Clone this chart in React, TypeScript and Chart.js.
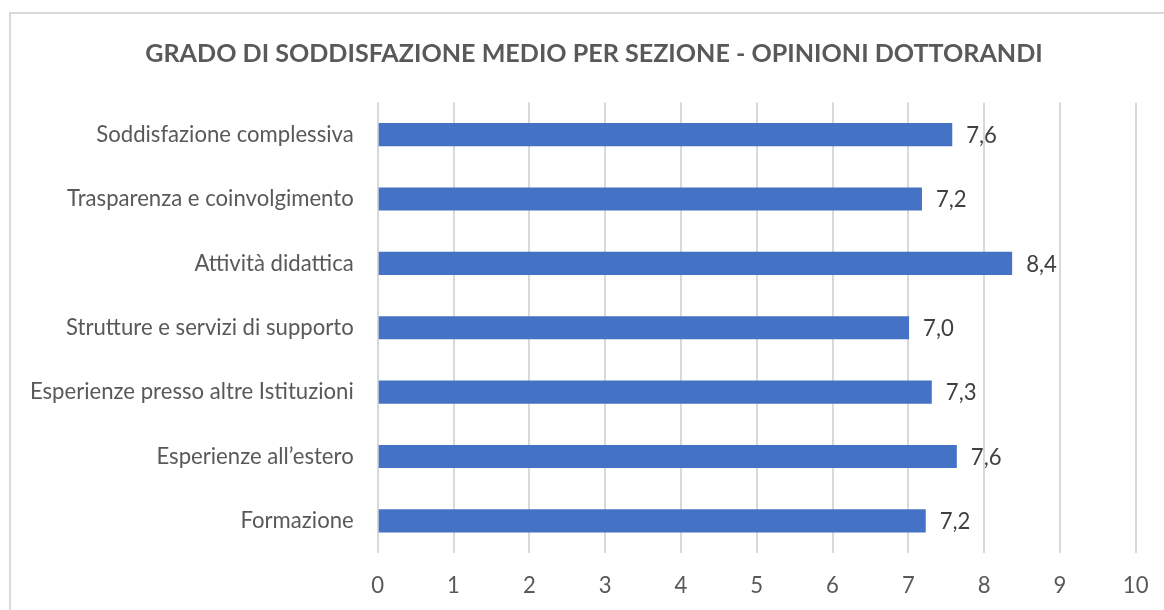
import React, { useEffect, useRef } from "react";
import { Chart, registerables } from "chart.js";

Chart.register(...registerables);

const chartTitle = "GRADO DI SODDISFAZIONE MEDIO PER SEZIONE - OPINIONI DOTTORANDI";
const categories = [
  "Soddisfazione complessiva",
  "Trasparenza e coinvolgimento",
  "Attività didattica",
  "Strutture e servizi di supporto",
  "Esperienze presso altre Istituzioni",
  "Esperienze all’estero",
  "Formazione",
];
const values = [7.58, 7.18, 8.37, 7.01, 7.31, 7.64, 7.23];
const valueLabels = ["7,6", "7,2", "8,4", "7,0", "7,3", "7,6", "7,2"];
const xMin = 0;
const xMax = 10;
const xStep = 1;

const FAMILY = "Lato, 'Open Sans', sans-serif";

function fitSize(text: string, weight: string, target: number): number {
  const ctx = document.createElement("canvas").getContext("2d")!;
  const base = 20;
  ctx.font = `${weight} ${base}px ${FAMILY}`;
  const w = ctx.measureText(text).width;
  return (base * target) / w;
}

export default function App() {
  const ref = useRef<HTMLCanvasElement>(null);

  useEffect(() => {
    const canvas = ref.current!;
    const labelSize = fitSize("Esperienze presso altre Istituzioni", "normal", 324);
    const titleSize = fitSize(chartTitle, "bold", 898);

    const framePlugin = {
      id: "frame",
      beforeDraw(chart: any) {
        const ctx = chart.ctx;
        ctx.save();
        ctx.fillStyle = "#ffffff";
        ctx.fillRect(0, 0, chart.width, chart.height);
        ctx.fillStyle = "#d9d9d9";
        ctx.fillRect(9, 12, chart.width, 2);
        ctx.fillRect(9, 12, 2, chart.height);
        ctx.fillStyle = "#595959";
        ctx.font = `bold ${titleSize}px ${FAMILY}`;
        ctx.textAlign = "center";
        ctx.textBaseline = "alphabetic";
        ctx.fillText(chartTitle, 594, 62);
        ctx.restore();
      },
    };

    const valueLabelPlugin = {
      id: "valueLabels",
      afterDatasetsDraw(chart: any) {
        const ctx = chart.ctx;
        const meta = chart.getDatasetMeta(0);
        ctx.save();
        ctx.fillStyle = "#404040";
        ctx.font = `${labelSize}px ${FAMILY}`;
        ctx.textAlign = "left";
        ctx.textBaseline = "middle";
        meta.data.forEach((bar: any, i: number) => {
          ctx.fillText(valueLabels[i], bar.x + 14, bar.y + 1);
        });
        ctx.restore();
      },
    };

    const chart = new Chart(canvas, {
      type: "bar",
      data: {
        labels: categories,
        datasets: [
          {
            data: values,
            backgroundColor: "#4472C4",
            borderWidth: 0,
            barPercentage: 0.36,
            categoryPercentage: 1,
          },
        ],
      },
      options: {
        indexAxis: "y",
        responsive: false,
        animation: false,
        devicePixelRatio: 1,
        layout: { padding: { top: 102.5, right: 28.3, bottom: 0, left: 0 } },
        plugins: {
          legend: { display: false },
          title: { display: false },
          tooltip: { enabled: false },
        },
        scales: {
          x: {
            min: xMin,
            max: xMax,
            grid: { color: "#d9d9d9", lineWidth: 2, drawTicks: false },
            border: { display: false },
            ticks: {
              stepSize: xStep,
              padding: 20,
              color: "#595959",
              font: { family: FAMILY, size: labelSize },
            },
            afterFit(scale: any) {
              scale.height = 57;
              scale.paddingLeft = 0;
              scale.paddingRight = 0;
            },
          },
          y: {
            grid: { display: false, drawTicks: false },
            border: { display: false },
            ticks: {
              padding: 24,
              color: "#595959",
              font: { family: FAMILY, size: labelSize },
            },
            afterFit(scale: any) {
              scale.width = 377.7;
              scale.paddingTop = 0;
              scale.paddingBottom = 0;
            },
          },
        },
      },
      plugins: [framePlugin, valueLabelPlugin],
    });
    return () => chart.destroy();
  }, []);

  return (
    <div style={{ position: "fixed", left: 0, top: 0, width: 1164, height: 610, background: "#fff" }}>
      <canvas ref={ref} width={1164} height={610} style={{ width: 1164, height: 610, display: "block" }} />
    </div>
  );
}
